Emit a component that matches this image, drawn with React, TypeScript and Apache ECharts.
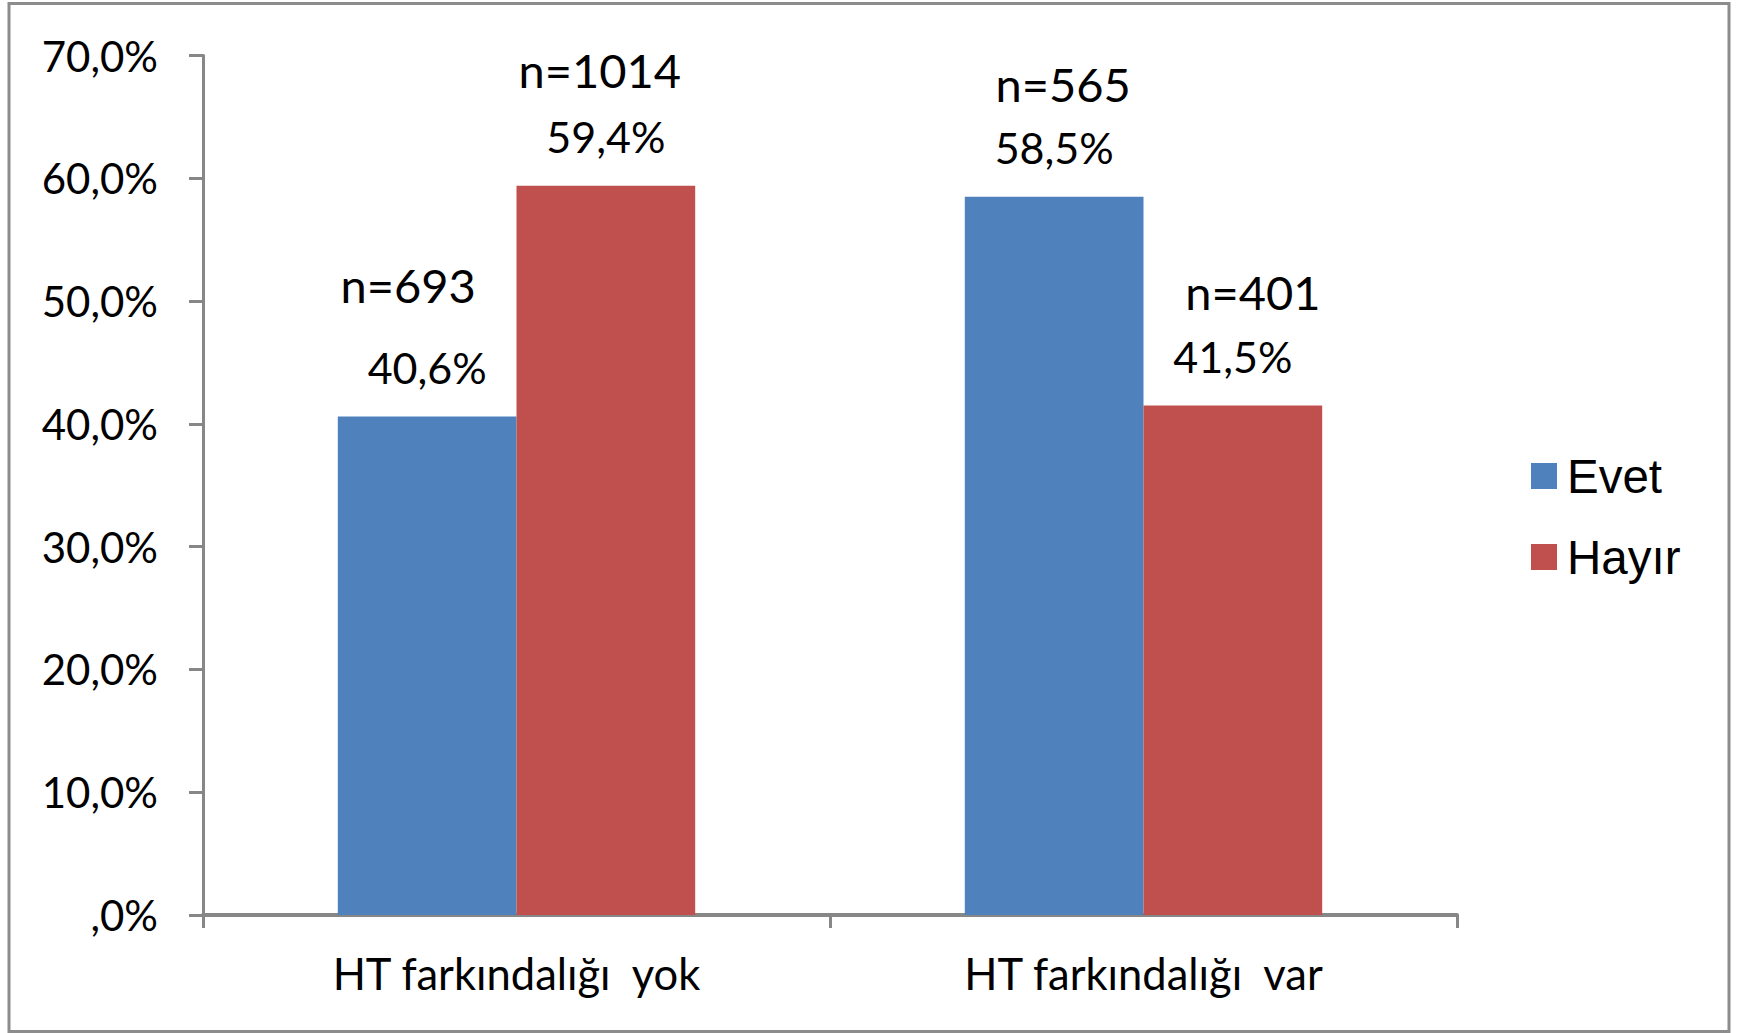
import React, { useEffect, useRef } from "react";
import * as echarts from "echarts";

const categories = ["HT farkındalığı  yok", "HT farkındalığı  var"];
const seriesNames = ["Evet", "Hayır"];
const evetValues = [40.6, 58.5];
const hayirValues = [59.4, 41.5];
const evetCounts = [693, 565];
const hayirCounts = [1014, 401];
const yTicks = [0, 10, 20, 30, 40, 50, 60, 70];

const fmtPct = (v: number) => (v === 0 ? ",0%" : v.toFixed(1).replace(".", ",") + "%");

// label style tweaks (horizontal shift of "n=" line, its line height)
const evetLabelStyle = [
  { shift: -19, nLine: 120 },
  { shift: 9, nLine: 84 },
];
const hayirLabelStyle = [
  { shift: -6, nLine: 90 },
  { shift: 20, nLine: 84 },
];

function buildData(values: number[], counts: number[], styles: { shift: number; nLine: number }[]) {
  return values.map((v, i) => {
    const s = styles[i];
    const pad = s.shift < 0 ? [0, -2 * s.shift, 0, 0] : [0, 0, 0, 2 * s.shift];
    return {
      value: v,
      label: {
        formatter: `{n|n=${counts[i]}}\n{p|${fmtPct(v)}}`,
        rich: {
          n: { fontFamily: "Lato", fontSize: 47, color: "#000", lineHeight: s.nLine, padding: pad, align: "center" },
          p: { fontFamily: "Lato", fontSize: 43, color: "#000", lineHeight: 44, align: "center" },
        },
      },
    };
  });
}

export default function App() {
  const ref = useRef<HTMLDivElement>(null);
  useEffect(() => {
    document.body.style.margin = "0";
    const chart = echarts.init(ref.current!, null, { renderer: "svg" });
    const axisGray = "#878787";
    chart.setOption({
      animation: false,
      backgroundColor: "#ffffff",
      grid: { left: 203, right: 284, top: 55.5, bottom: 118, outerBoundsMode: "none", containLabel: false },
      legend: {
        orient: "vertical",
        left: 1526,
        top: 446,
        itemWidth: 26,
        itemHeight: 26,
        itemGap: 31,
        icon: "rect",
        data: seriesNames,
        textStyle: { fontFamily: "Liberation Sans", fontSize: 47.5, color: "#000", lineHeight: 50, padding: [0, 0, 0, 5] },
      },
      xAxis: {
        type: "category",
        data: categories,
        axisLine: { show: true, lineStyle: { color: axisGray, width: 4 } },
        axisTick: { show: true, length: 13, lineStyle: { color: axisGray, width: 3 } },
        axisLabel: { fontFamily: "Lato", fontSize: 43.5, color: "#000", margin: 36 },
        splitLine: { show: false },
      },
      yAxis: {
        type: "value",
        min: 0,
        max: 70,
        interval: 10,
        axisLine: { show: true, lineStyle: { color: axisGray, width: 3 } },
        axisTick: { show: true, length: 14, lineStyle: { color: axisGray, width: 3 } },
        axisLabel: {
          fontFamily: "Lato",
          fontSize: 42,
          color: "#000",
          margin: 45,
          formatter: (v: number) => (yTicks.includes(v) ? fmtPct(v) : ""),
        },
        splitLine: { show: false },
      },
      series: [
        {
          name: seriesNames[0],
          type: "bar",
          barGap: "0%",
          barCategoryGap: "43%",
          itemStyle: { color: "#4F81BD" },
          label: { show: true, position: "top", distance: 27 },
          data: buildData(evetValues, evetCounts, evetLabelStyle),
        },
        {
          name: seriesNames[1],
          type: "bar",
          barGap: "0%",
          barCategoryGap: "43%",
          itemStyle: { color: "#C0504D" },
          label: { show: true, position: "top", distance: 27 },
          data: buildData(hayirValues, hayirCounts, hayirLabelStyle),
        },
      ],
      graphic: [
        {
          type: "rect",
          shape: { x: 9, y: 3.5, width: 1720, height: 1028 },
          style: { fill: "none", stroke: "#8c8c8c", lineWidth: 3 },
          silent: true,
        },
      ],
    });
    return () => chart.dispose();
  }, []);
  return <div ref={ref} style={{ width: 1741, height: 1033 }} />;
}
